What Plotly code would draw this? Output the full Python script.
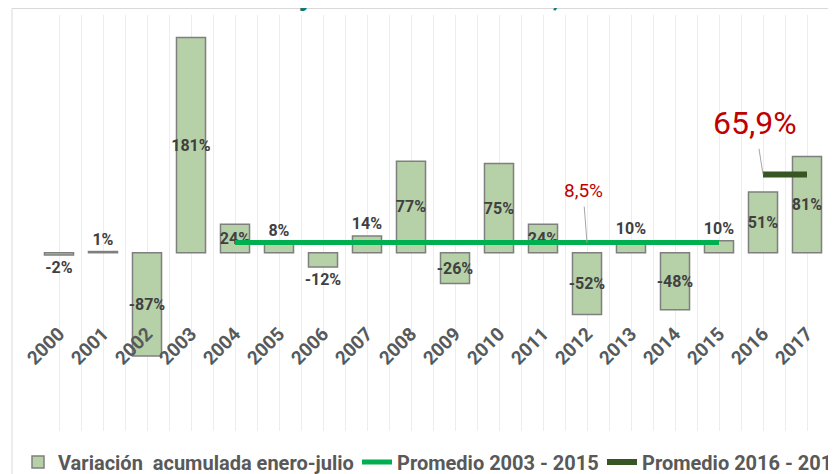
import plotly.graph_objects as go

# ---------------- data ----------------
years = list(range(2000, 2018))
year_labels = [str(y) for y in years]
variacion = [-2, 1, -87, 181, 24, 8, -12, 14, 77, -26, 75, 24, -52, 10, -48, 10, 51, 81]
prom1_years = [2004, 2015]
prom1_vals = [8.5, 8.5]
prom2_years = [2016, 2017]
prom2_vals = [65.9, 65.9]
series_names = ["Variación  acumulada enero-julio", "Promedio 2003 - 2015", "Promedio 2016 - 2017"]
title_text = "Variación acumulada enero-julio del 2000 al 2017, en %"

bar_labels = [f"{v}%" for v in variacion]
prom1_label = f"{prom1_vals[0]:.1f}%".replace(".", ",")
prom2_label = f"{prom2_vals[0]:.1f}%".replace(".", ",")

# ---------------- style ----------------
FONT = "Roboto"
GRID = "#EDEDED"
OFF = 8                      # page body margin
W, H = 828, 466
ML, MR, MT, MB = 29, 7, 7, 43
PW, PH = W - ML - MR, H - MT - MB


def px_x(page_x):
    return (page_x - OFF - ML) / PW


def px_y(page_y):
    return (H - MB - (page_y - OFF)) / PH


fig = go.Figure()
fig.add_trace(go.Bar(
    x=years, y=variacion, name=series_names[0],
    marker=dict(color="#B6D1A7", line=dict(color="#7F7F7F", width=1.5)),
    text=bar_labels,
    textposition=["inside" if abs(v) >= 20 else "outside" for v in variacion],
    insidetextanchor="middle", textangle=0, cliponaxis=False,
    textfont=dict(family=FONT, size=16, color="#404040", weight="bold"),
    legend="legend",
))
fig.add_trace(go.Scatter(
    x=prom1_years, y=prom1_vals, name=series_names[1], mode="lines",
    line=dict(color="#00B050", width=5), legend="legend2",
))
fig.add_trace(go.Scatter(
    x=prom2_years, y=prom2_vals, name=series_names[2], mode="lines",
    line=dict(color="#375623", width=6), legend="legend3",
))

legend_common = dict(
    orientation="h", xanchor="left", yanchor="middle", y=px_y(462),
    font=dict(family=FONT, size=20, color="#595959", weight="bold"),
    bgcolor="rgba(0,0,0,0)", borderwidth=0,
)

fig.update_layout(
    width=W, height=H,
    margin=dict(l=ML, r=MR, t=MT, b=MB, autoexpand=False),
    paper_bgcolor="white", plot_bgcolor="white",
    bargap=0.34,
    uniformtext=dict(minsize=16, mode="show"),
    xaxis=dict(
        type="linear", range=[years[0] - 0.5, years[-1] + 0.5],
        tickmode="array", tickvals=years, ticktext=year_labels, tickangle=-45,
        showgrid=True, gridcolor=GRID, gridwidth=1,
        minor=dict(tickmode="array", tickvals=[y - 0.5 for y in years] + [years[-1] + 0.5],
                   showgrid=True, gridcolor=GRID, gridwidth=1, ticks=""),
        anchor="free", position=px_y(318), showline=False, zeroline=False, ticks="",
        tickfont=dict(family=FONT, size=19, color="#595959", weight="bold"),
        fixedrange=True,
    ),
    yaxis=dict(range=[-150, 200], showgrid=False, zeroline=False, showticklabels=False,
               showline=False, ticks="", fixedrange=True),
    showlegend=True,
    legend=dict(x=px_x(18), **legend_common),
    legend2=dict(x=px_x(357), **legend_common),
    legend3=dict(x=px_x(602), **legend_common),
    shapes=[dict(type="rect", xref="paper", yref="paper",
                 x0=px_x(12), x1=px_x(900), y0=px_y(520), y1=px_y(8.5),
                 line=dict(color="#D9D9D9", width=1), fillcolor="rgba(0,0,0,0)", layer="below")],
    annotations=[
        dict(x=prom1_years[0] + 8, y=prom1_vals[0], xref="x", yref="y", text=prom1_label,
             showarrow=True, arrowhead=0, arrowwidth=1, arrowcolor="#A6A6A6",
             ax=-4, ay=-52, startstandoff=3,
             font=dict(family=FONT, size=19, color="#C00000")),
        dict(x=prom2_years[0], y=prom2_vals[0], xref="x", yref="y", text=prom2_label,
             showarrow=True, arrowhead=0, arrowwidth=1, arrowcolor="#A6A6A6",
             ax=-8, ay=-51, startstandoff=5,
             font=dict(family=FONT, size=32, color="#C00000")),
        dict(x=px_x(-29), y=px_y(14), xref="paper", yref="paper", xanchor="left", yanchor="bottom",
             text=title_text, showarrow=False,
             font=dict(family=FONT, size=26, color="#0B7A75", weight="bold")),
    ],
)

fig.write_html("out.html")
